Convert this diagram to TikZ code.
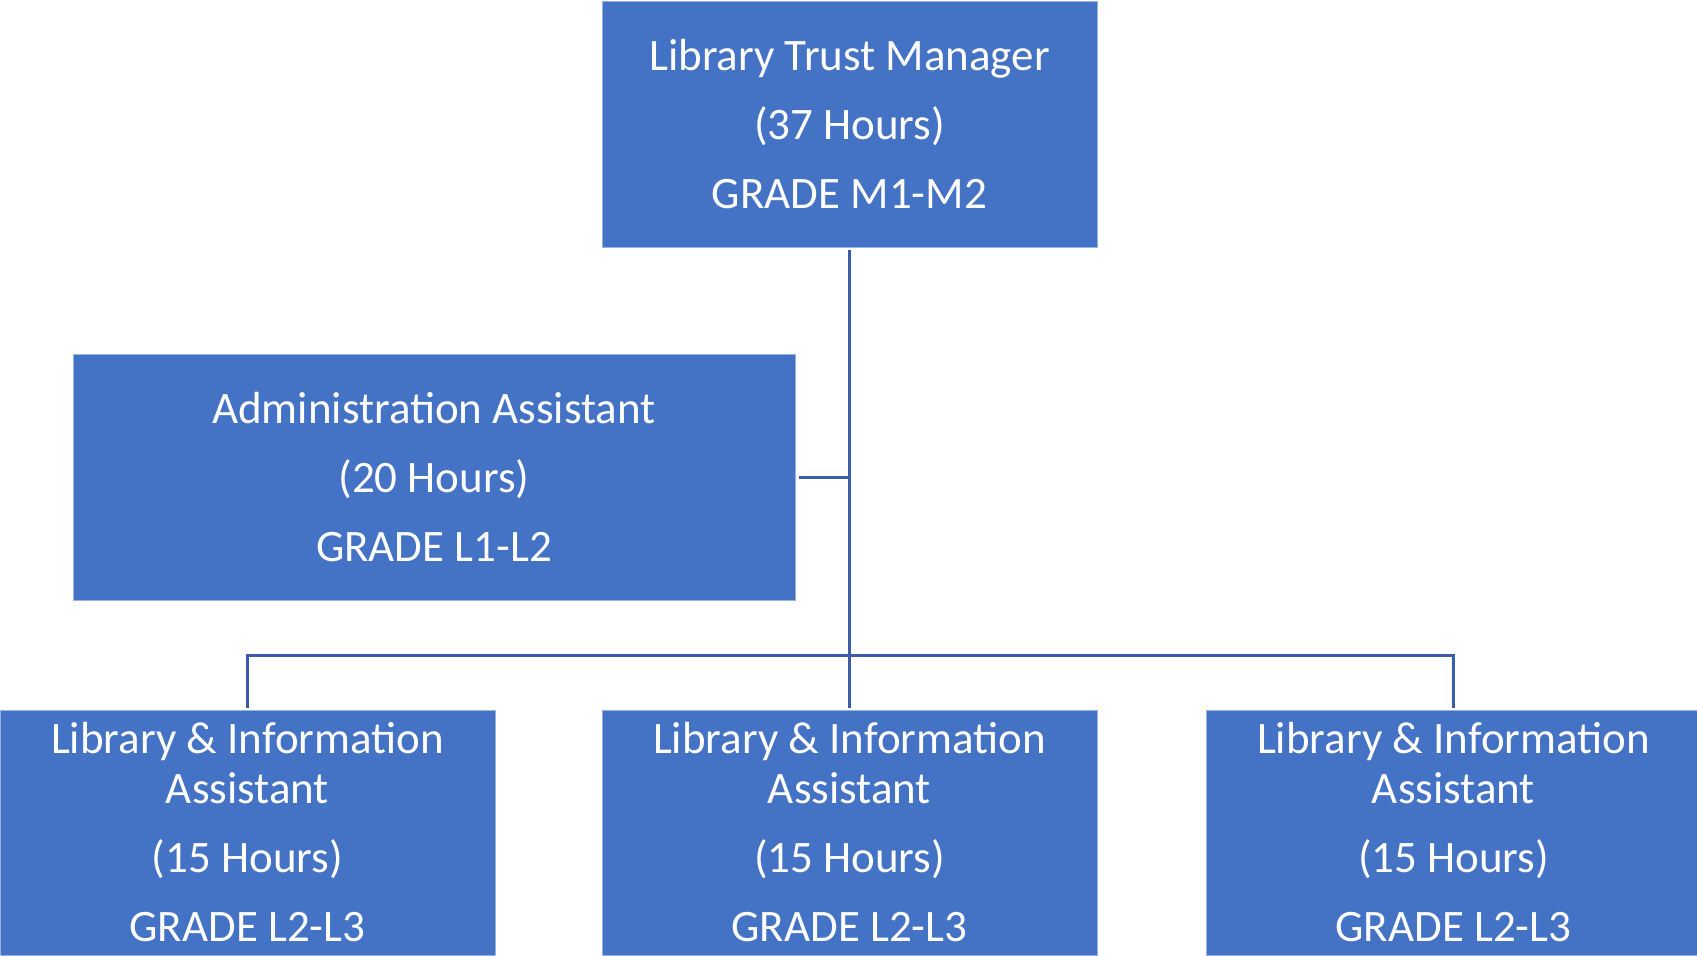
\documentclass[tikz,border=0pt]{standalone}
\usepackage{fontspec}
\setmainfont{Carlito}
\definecolor{boxblue}{HTML}{4472C4}
\definecolor{linkblue}{HTML}{3A5CA9}
\tikzset{
  post/.style={fill=boxblue, draw=boxblue!55!white, line width=0.4pt,
    text=white, align=center, inner sep=0pt,
    minimum width=247.5pt, minimum height=123pt,
    font={\fontsize{22.5}{34.5}\selectfont}},
  link/.style={linkblue, line width=1.5pt}
}
\begin{document}
\begin{tikzpicture}[x=0.5pt,y=-0.5pt]
  \useasboundingbox (0,0) rectangle (1697,955);
  \clip (0,0) rectangle (1697,955);

  \node[post] (ltm) at (849.5,124) {Library Trust Manager\\(37 Hours)\\GRADE M1-M2};
  \node[post, minimum width=361pt] (admin) at (434,477.5) {Administration Assistant\\(20 Hours)\\GRADE L1-L2};

  % three assistants on the bottom row
  \node[post, minimum height=122.5pt] (lia1) at (247.5,832.5) {Library \& Information\\[-9.5pt]Assistant\\(15 Hours)\\GRADE L2-L3};
  \node[post, minimum height=122.5pt] (lia2) at (849.5,832.5) {Library \& Information\\[-9.5pt]Assistant\\(15 Hours)\\GRADE L2-L3};
  \node[post, minimum height=122.5pt] (lia3) at (1453.5,832.5) {Library \& Information\\[-9.5pt]Assistant\\(15 Hours)\\GRADE L2-L3};

  \coordinate (bus) at (849.5,655);

  \draw[link, shorten <=1.5pt] (ltm.south) -- (bus);
  \draw[link, shorten <=2pt] (admin.east) -- (admin.east -| bus);
  \draw[link, shorten <=1pt, shorten >=1pt] (lia1.north) |- (bus) -| (lia3.north);
  \draw[link, shorten <=1pt] (lia2.north) -- (bus);
\end{tikzpicture}
\end{document}
